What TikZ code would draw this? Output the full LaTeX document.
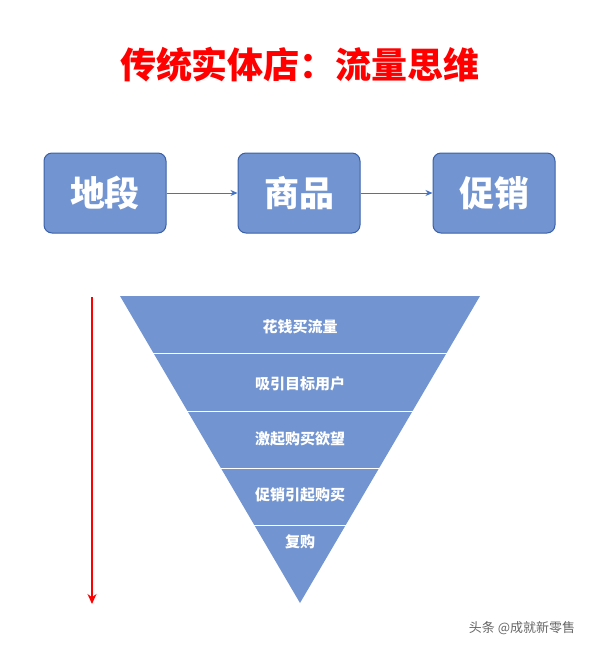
\documentclass[tikz,border=0pt]{standalone}
\usepackage{fontspec}
\usetikzlibrary{arrows.meta}
\newfontfamily\cjk{Noto Sans CJK SC}
\definecolor{boxfill}{RGB}{114,148,208}
\definecolor{boxline}{RGB}{58,96,168}
\definecolor{flowblue}{RGB}{68,114,196}
\begin{document}
\begin{tikzpicture}[x=1pt,y=-1pt,
  stagebox/.style={draw=boxline, line width=1pt, fill=boxfill, rounded corners=8pt,
    minimum width=122pt, minimum height=80pt, font=\cjk\bfseries\fontsize{35}{38}\selectfont, text=white},
  bandtext/.style={font=\cjk\bfseries\fontsize{15}{17}\selectfont, text=white},
  ]
\useasboundingbox (0,0) rectangle (600,649);
\node[font=\cjk\bfseries\fontsize{36}{40}\selectfont, text=red] (title) at (300,65) {传统实体店：流量思维};
% stages
\node[stagebox] (site) at (105,193) {地段};
\node[stagebox] (goods) at (299,193) {商品};
\node[stagebox] (promo) at (494,193) {促销};
\draw[-{Stealth[length=7pt,width=6pt]}, flowblue, line width=1pt] (site) -- (goods);
\draw[-{Stealth[length=7pt,width=6pt]}, flowblue, line width=1pt] (goods) -- (promo);
% funnel
\fill[boxfill] (120,296) coordinate (ftl) -- (480,296) coordinate (ftr) -- (300,603) coordinate (fbot) -- cycle;
\foreach \y/\hw in {353/146.6, 411/112.6, 468/79.2, 525/45.7}
  \draw[white, line width=1pt] (300-\hw,\y) -- (300+\hw,\y);
\node[bandtext] (b1) at (300,327) {花钱买流量};
\node[bandtext] (b2) at (300,384) {吸引目标用户};
\node[bandtext] (b3) at (300,439) {激起购买欲望};
\node[bandtext] (b4) at (300,495) {促销引起购买};
\node[bandtext] (b5) at (300,542) {复购};
% red arrow
\coordinate (rtop) at (92,297);
\coordinate (rbot) at (92,604);
\draw[-{Stealth[length=10pt,width=9pt]}, red, line width=1.2pt] (rtop) -- (rbot);
\node[font=\cjk\fontsize{13}{15}\selectfont, text=gray!80!black] (mark) at (522,628) {头条 @成就新零售};
\end{tikzpicture}
\end{document}
